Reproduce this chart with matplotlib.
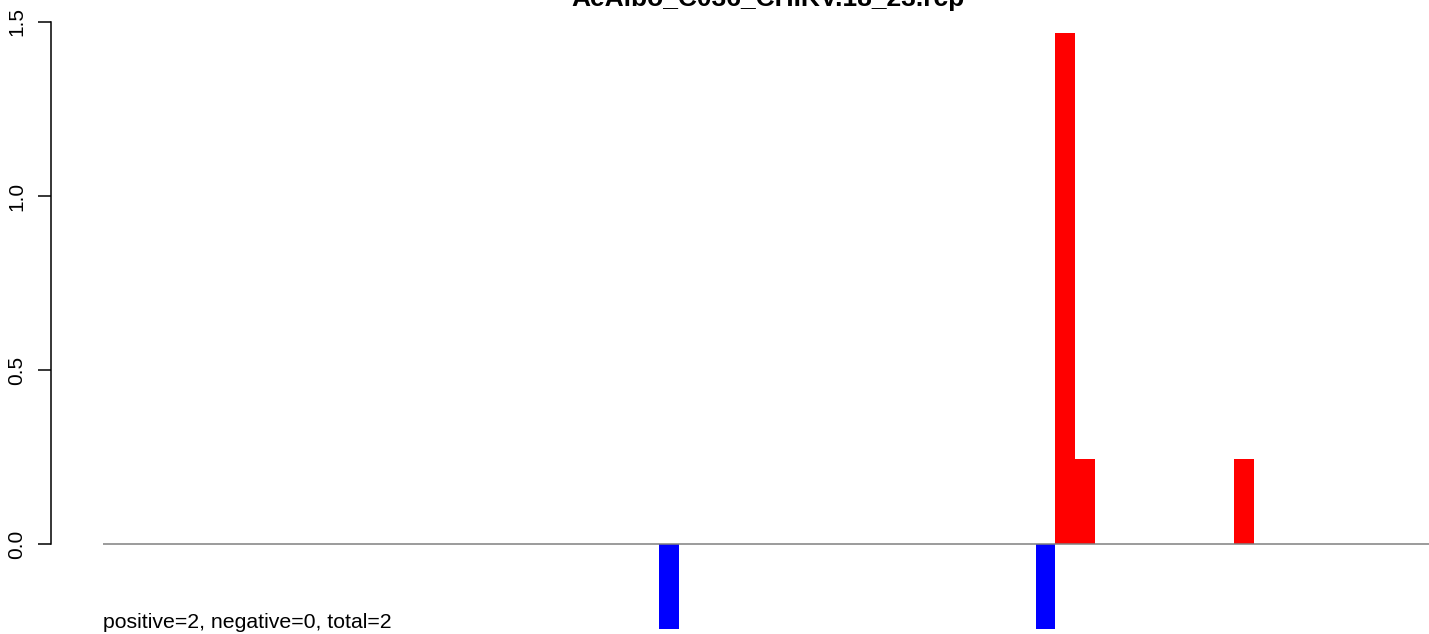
import matplotlib
matplotlib.use("Agg")
import matplotlib.pyplot as plt

# bin index of each bar and its value (negative = blue, positive = red)
bins = [28, 47, 48, 49, 57]
values = [-0.245, -0.245, 1.468, 0.245, 0.245]
n_bins = 67
title = "AeAlbo_C036_CHIKV.18_23.rcp"
note = "positive=2, negative=0, total=2"
yticks = [0.0, 0.5, 1.0, 1.5]

plt.rcParams['font.family'] = ['Liberation Sans', 'DejaVu Sans']

W, H = 1429, 634
fig = plt.figure(figsize=(W / 100, H / 100), dpi=100)

# axes from y-axis line to right edge, full height
ax = fig.add_axes([51 / W, 0, 1 - 51 / W, 1])
px = 19.83  # pixels per bin
x0 = 103.6  # pixel where bin 0 starts
ax.set_xlim((51 - x0) / px, (W - x0) / px)
ppu = 348.0  # pixels per y unit
ax.set_ylim(-(H - 544) / ppu, 544 / ppu)

colors = ['blue' if v < 0 else 'red' for v in values]
ax.bar(bins, values, width=1, align='edge', color=colors, linewidth=0)
ax.hlines(0, -0.03, n_bins, color='#808080', linewidth=1.1)

for s in ['top', 'right', 'bottom']:
    ax.spines[s].set_visible(False)
ax.spines['left'].set_bounds(0, 1.5)
ax.spines['left'].set_linewidth(1.1)
ax.set_xticks([])
ax.set_yticks(yticks)
ax.set_yticklabels([f"{t:.1f}" for t in yticks], rotation=90, va='center', fontsize=15)
ax.tick_params(axis='y', length=9.4, width=1.1, pad=8.5)

fig.text(768 / W, 1 - 6 / H, title, ha='center', va='baseline',
         fontsize=19, fontweight='bold')
fig.text(103 / W, 1 - 628 / H, note, ha='left', va='baseline', fontsize=15.3)

fig.savefig("out.png", dpi=100)
